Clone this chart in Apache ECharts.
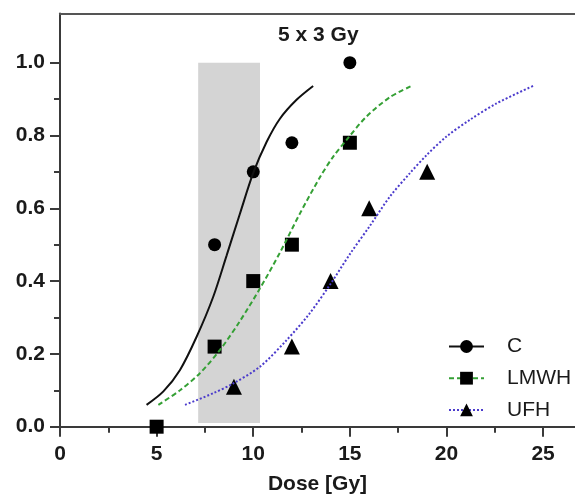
<!DOCTYPE html>
<html>
<head>
<meta charset="utf-8">
<script src="https://cdn.jsdelivr.net/npm/echarts@6/dist/echarts.min.js"></script>
<style>
  html, body { margin: 0; padding: 0; background: #fff; }
  #chart { width: 575px; height: 497px; }
</style>
</head>
<body>
<div id="chart"></div>
<script>
// axis ticks
const xMajor = [0, 5, 10, 15, 20, 25];
const xMinor = [2.5, 7.5, 12.5, 17.5, 22.5];
const yMajor = [0, 0.2, 0.4, 0.6, 0.8, 1.0];
const yMinor = [0.1, 0.3, 0.5, 0.7, 0.9];
const doseMax = 26.65;
const fracMax = 1.135;

// measured points
const cDose = [8, 10, 12, 15];
const cFrac = [0.5, 0.7, 0.78, 1.0];
const lmwhDose = [5, 8, 10, 12, 15];
const lmwhFrac = [0, 0.22, 0.4, 0.5, 0.78];
const ufhDose = [9, 12, 14, 16, 19];
const ufhFrac = [0.11, 0.22, 0.4, 0.6, 0.7];

// fitted curves
const cFit = [
  [4.48, 0.06], [5.35, 0.097], [6.21, 0.156], [7.07, 0.247], [7.93, 0.357],
  [8.62, 0.47], [9.31, 0.585], [10.0, 0.697], [10.69, 0.782], [11.38, 0.846],
  [12.24, 0.898], [13.1, 0.936]
];
const lmwhFit = [
  [5.09, 0.06], [6.21, 0.1], [7.24, 0.147], [8.28, 0.211], [9.31, 0.29],
  [10.35, 0.38], [11.4, 0.48], [12.42, 0.586], [13.45, 0.685], [14.14, 0.742],
  [14.83, 0.788], [15.86, 0.852], [17.07, 0.905], [18.19, 0.936]
];
const ufhFit = [
  [6.47, 0.06], [7.93, 0.092], [8.97, 0.119], [10.35, 0.165], [11.73, 0.238],
  [12.9, 0.31], [13.97, 0.39], [15.0, 0.474], [16.04, 0.552], [17.07, 0.632],
  [18.1, 0.696], [18.97, 0.746], [20.0, 0.797], [21.21, 0.843], [22.59, 0.888],
  [24.48, 0.936]
];

// shaded dose window
const shadedDose = [7.15, 10.35];
const shadedFrac = [0.01, 1.0];

const font = "'Liberation Sans', Arial, sans-serif";
const axisColor = "#3a3a3a";
const pair = (xs, ys) => xs.map((x, i) => [x, ys[i]]);

const chart = echarts.init(document.getElementById("chart"), null, { renderer: "canvas" });

const tickAxis = (extra) => Object.assign({
  type: "value",
  gridIndex: 0,
  splitLine: { show: false },
}, extra);

const fitLine = (name, data, symbol, lineStyle) => ({
  name,
  type: "line",
  data,
  smooth: 0.3,
  showSymbol: false,
  symbol,
  itemStyle: { color: "#000" },
  lineStyle,
  silent: true,
});

const points = (name, xs, ys, symbol, size) => ({
  name,
  type: "scatter",
  data: pair(xs, ys),
  symbol,
  symbolSize: size,
  itemStyle: { color: "#000", opacity: 1 },
  clip: false,
  silent: true,
});

const cLine = fitLine("C", cFit, "circle", { color: "#111", width: 2 });
cLine.markArea = {
  silent: true,
  itemStyle: { color: "#d4d4d4" },
  data: [[
    { xAxis: shadedDose[0], yAxis: shadedFrac[0] },
    { xAxis: shadedDose[1], yAxis: shadedFrac[1] },
  ]],
};

chart.setOption({
  animation: false,
  textStyle: { fontFamily: font },
  title: {
    text: "5 x 3 Gy",
    left: 278,
    top: 25,
    padding: 0,
    textStyle: { fontSize: 21, fontWeight: "bold", color: "#1a1a1a", fontFamily: font },
  },
  grid: {
    left: 60, right: 0, top: 13.5, bottom: 70.3,
    containLabel: false, outerBoundsMode: "none",
  },
  legend: {
    orient: "vertical",
    left: 448,
    top: 336,
    padding: 0,
    itemWidth: 35,
    itemHeight: 16,
    itemGap: 10.7,
    data: ["C", "LMWH", "UFH"],
    textStyle: { fontSize: 21, color: "#1a1a1a", fontFamily: font, padding: [0, 0, 0, 18] },
  },
  xAxis: [
    tickAxis({
      position: "bottom",
      min: 0,
      max: doseMax,
      name: "Dose [Gy]",
      nameLocation: "middle",
      nameGap: 47,
      nameTextStyle: { fontSize: 21, fontWeight: "bold", color: "#1a1a1a", fontFamily: font },
      axisLine: { show: true, onZero: false, lineStyle: { color: axisColor, width: 2 } },
      axisTick: { show: true, customValues: xMajor, length: 10, lineStyle: { color: axisColor, width: 2 } },
      axisLabel: {
        customValues: xMajor, margin: 17, fontSize: 21, fontWeight: "bold",
        color: "#1a1a1a", fontFamily: font,
      },
    }),
    tickAxis({
      position: "bottom",
      min: 0,
      max: doseMax,
      axisLine: { show: false, onZero: false },
      axisTick: { show: true, customValues: xMinor, length: 6, lineStyle: { color: axisColor, width: 2 } },
      axisLabel: { show: false },
    }),
    tickAxis({
      position: "top",
      min: 0,
      max: doseMax,
      axisLine: { show: true, onZero: false, lineStyle: { color: "#555", width: 2 } },
      axisTick: { show: false },
      axisLabel: { show: false },
    }),
  ],
  yAxis: [
    tickAxis({
      position: "left",
      min: 0,
      max: fracMax,
      axisLine: { show: true, onZero: false, lineStyle: { color: axisColor, width: 2 } },
      axisTick: { show: true, customValues: yMajor, length: 10, lineStyle: { color: axisColor, width: 2 } },
      axisLabel: {
        customValues: yMajor, margin: 15, fontSize: 21, fontWeight: "bold",
        color: "#1a1a1a", fontFamily: font,
        formatter: (v) => v.toFixed(1),
      },
    }),
    tickAxis({
      position: "left",
      min: 0,
      max: fracMax,
      axisLine: { show: false, onZero: false },
      axisTick: { show: true, customValues: yMinor, length: 6, lineStyle: { color: axisColor, width: 2 } },
      axisLabel: { show: false },
    }),
  ],
  series: [
    cLine,
    fitLine("LMWH", lmwhFit, "rect", { color: "#35a035", width: 2, type: [5, 3] }),
    fitLine("UFH", ufhFit, "triangle", { color: "#4b3bcc", width: 2, type: [2, 2] }),
    points("C points", cDose, cFrac, "circle", 13),
    points("LMWH points", lmwhDose, lmwhFrac, "rect", 14),
    points("UFH points", ufhDose, ufhFrac, "triangle", 16),
  ],
});
</script>
</body>
</html>
